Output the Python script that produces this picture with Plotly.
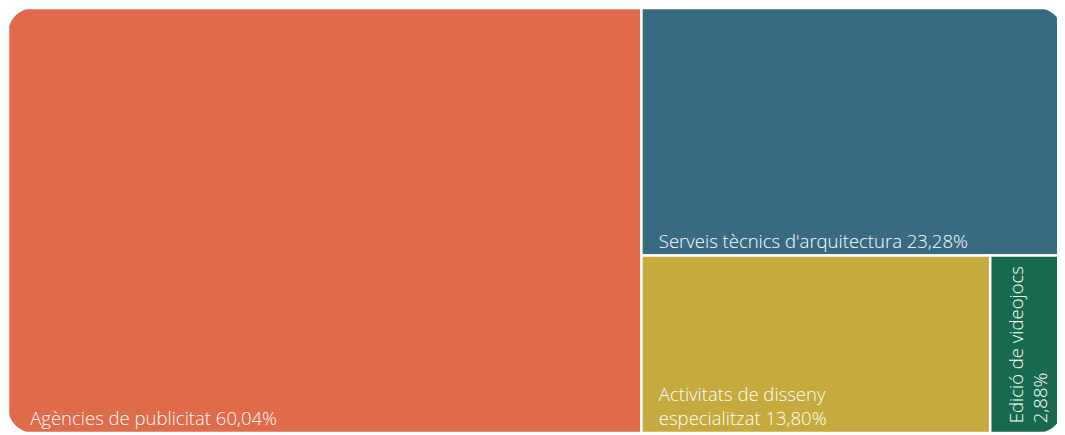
import plotly.graph_objects as go

# sector shares (%)
labels = ["Agències de publicitat", "Serveis tècnics d'arquitectura",
          "Activitats de disseny especialitzat", "Edició de videojocs"]
tile_text = ["Agències de publicitat", "Serveis tècnics d'arquitectura",
             "Activitats de disseny<br>especialitzat", ""]
values = [60.04, 23.28, 13.80, 2.88]
colors = ["#E06B4A", "#366B82", "#C6AA3E", "#176A4F"]

FONT = dict(family="Open Sans", size=18.5, color="white", weight=300)

def pct(v):
    return f"{v:.2f}".replace(".", ",") + "%"

NB = "\u00a0"
indent = [NB * 4, NB * 3, NB * 3, ""]
shown = []
for i, v in enumerate(values):
    if tile_text[i]:
        t = indent[i] + tile_text[i].replace("<br>", "<br>" + indent[i]) + " " + pct(v)
    else:
        t = ""
    shown.append(t)

fig = go.Figure()
fig.add_trace(go.Treemap(
    labels=labels,
    parents=[""] * len(labels),
    values=values,
    text=shown,
    texttemplate="%{text}",
    textposition="bottom left",
    textfont=FONT,
    marker=dict(colors=colors, line=dict(color="white", width=2.5),
                pad=dict(t=0, l=0, r=0, b=0)),
    sort=True,
    tiling=dict(packing="squarify", pad=0),
    pathbar=dict(visible=False),
    root=dict(color="white"),
    hoverinfo="label+value",
))

# rotated label for the narrow tile
left_share = values[0] / sum(values)
x_small = left_share + (1 - left_share) * values[2] / (values[2] + values[3])
fig.add_annotation(
    x=x_small, y=0, xref="paper", yref="paper",
    xanchor="left", yanchor="bottom", xshift=11, yshift=8,
    text=labels[3] + "<br>" + pct(values[3]),
    textangle=-90, align="left", showarrow=False,
    font=FONT,
)

# round the outer corners of the whole block
R = 26
k = 0.5523 * R
corners = [
    (0, 1, f"M0,0 L{R},0 C{R - k},0 0,{-(R - k)} 0,{-R} Z"),
    (1, 1, f"M0,0 L{-R},0 C{-(R - k)},0 0,{-(R - k)} 0,{-R} Z"),
    (0, 0, f"M0,0 L{R},0 C{R - k},0 0,{R - k} 0,{R} Z"),
    (1, 0, f"M0,0 L{-R},0 C{-(R - k)},0 0,{R - k} 0,{R} Z"),
]
for xa, ya, path in corners:
    fig.add_shape(type="path", path=path, xref="paper", yref="paper",
                  xsizemode="pixel", ysizemode="pixel", xanchor=xa, yanchor=ya,
                  fillcolor="white", line=dict(width=0), layer="above")

fig.update_layout(
    width=1055, height=425,
    margin=dict(l=0, r=0, t=0, b=0),
    paper_bgcolor="white",
    plot_bgcolor="white",
    showlegend=False,
)
fig.write_html("out.html")
